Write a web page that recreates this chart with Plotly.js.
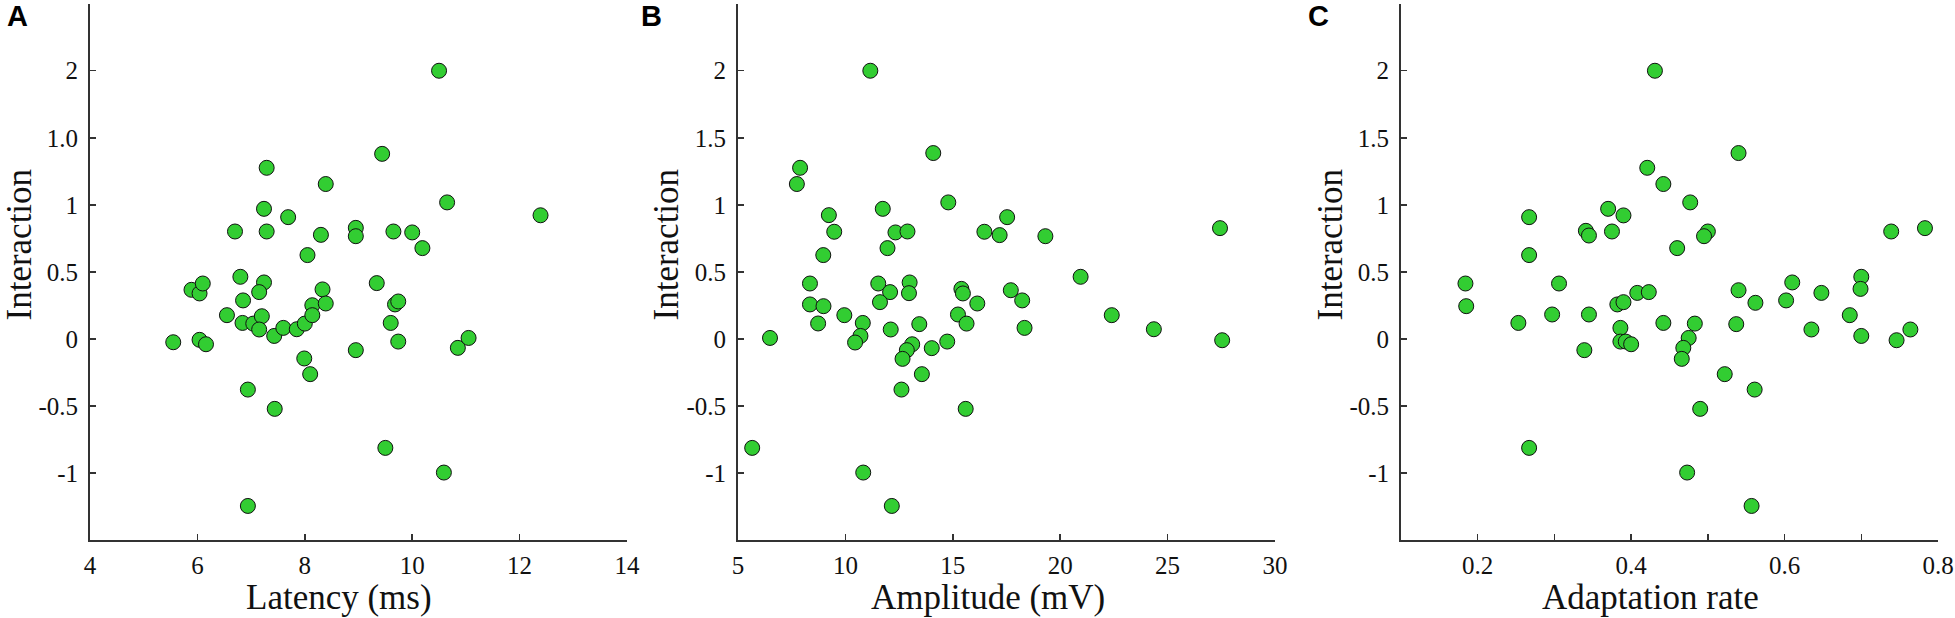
<!DOCTYPE html>
<html>
<head>
<meta charset="utf-8">
<script src="https://cdn.plot.ly/plotly-3.0.1.min.js"></script>
<style>
  html, body { margin: 0; padding: 0; background: #fff; }
  #chart { width: 1955px; height: 618px; }
</style>
</head>
<body>
<div id="chart"></div>
<script>
// ---------------- DATA ----------------
// Panel A: Latency (ms) vs Interaction
const latencyX = [10.50, 9.44, 7.29, 8.39, 10.65, 7.24, 7.69, 6.70, 7.29, 8.30, 8.95, 8.95, 9.65, 10.00, 10.19,
  8.05, 6.80, 5.89, 6.04, 6.10, 7.24, 7.15, 6.85, 8.33, 8.14, 8.39, 9.34, 9.68, 9.74,
  6.55, 6.84, 7.04, 7.20, 7.15, 7.43, 7.60, 7.85, 8.00, 8.14, 9.60,
  5.55, 6.04, 6.16, 8.95, 9.74, 10.85, 11.05, 7.99, 8.10, 6.94, 7.44, 9.50, 10.59, 6.94, 12.39];
const latencyY = [2.00, 1.38, 1.276, 1.155, 1.018, 0.970, 0.908, 0.801, 0.801, 0.776, 0.828, 0.766, 0.801, 0.794, 0.677,
  0.625, 0.463, 0.366, 0.339, 0.413, 0.421, 0.349, 0.287, 0.369, 0.251, 0.264, 0.416, 0.257, 0.279,
  0.177, 0.119, 0.114, 0.169, 0.070, 0.022, 0.082, 0.072, 0.114, 0.177, 0.119,
  -0.025, -0.007, -0.040, -0.084, -0.020, -0.067, 0.007, -0.146, -0.263, -0.378, -0.522, -0.813, -0.997, -1.246, 0.922];

// Panel B: Amplitude (mV) vs Interaction
const ampX = [11.16, 14.09, 7.89, 7.74, 14.79, 11.74, 17.53, 9.23, 9.48, 12.33, 12.89, 16.47, 17.18, 19.31, 27.44,
  11.96, 8.97, 20.95, 8.35, 11.53, 12.99, 12.08, 12.96, 15.40, 15.47, 17.70, 18.23, 8.35, 8.98, 11.61,
  16.14, 9.95, 15.24, 22.40,
  8.73, 10.81, 12.11, 13.44, 15.64, 18.34, 24.36, 27.54, 6.49, 10.70, 10.45, 13.11, 12.86, 12.66,
  14.02, 14.74, 13.56, 12.61, 15.60, 5.66, 10.83, 12.16];
const ampY = [2.00, 1.386, 1.276, 1.155, 1.018, 0.970, 0.908, 0.923, 0.799, 0.794, 0.801, 0.799, 0.774, 0.766, 0.826,
  0.677, 0.625, 0.463, 0.413, 0.413, 0.421, 0.349, 0.341, 0.373, 0.339, 0.363, 0.287, 0.257, 0.244, 0.274,
  0.264, 0.177, 0.182, 0.177,
  0.115, 0.119, 0.070, 0.110, 0.114, 0.082, 0.072, -0.010, 0.007, 0.022, -0.027, -0.040, -0.084, -0.149,
  -0.069, -0.020, -0.263, -0.378, -0.522, -0.813, -0.997, -1.246];

// Panel C: Adaptation rate vs Interaction
const adaptX = [0.431, 0.540, 0.421, 0.442, 0.477, 0.370, 0.390, 0.267, 0.341, 0.345, 0.375, 0.500, 0.495, 0.739, 0.783,
  0.460, 0.267, 0.700, 0.184, 0.306, 0.610, 0.699, 0.648, 0.408, 0.423, 0.540, 0.562, 0.602, 0.382, 0.390,
  0.185, 0.297, 0.345, 0.685,
  0.253, 0.442, 0.483, 0.537, 0.386, 0.635, 0.764, 0.700, 0.475, 0.386, 0.393, 0.400, 0.746, 0.468,
  0.339, 0.466, 0.522, 0.561, 0.490, 0.267, 0.473, 0.557];
const adaptY = [2.00, 1.386, 1.276, 1.155, 1.018, 0.970, 0.921, 0.908, 0.806, 0.771, 0.801, 0.801, 0.766, 0.801, 0.826,
  0.677, 0.625, 0.463, 0.413, 0.413, 0.421, 0.373, 0.343, 0.343, 0.349, 0.363, 0.269, 0.287, 0.257, 0.274,
  0.244, 0.182, 0.182, 0.177,
  0.119, 0.119, 0.114, 0.110, 0.082, 0.070, 0.070, 0.022, 0.007, -0.020, -0.020, -0.040, -0.010, -0.067,
  -0.084, -0.149, -0.263, -0.378, -0.522, -0.813, -0.997, -1.246];

// Ticks
const yTickVals = [-1, -0.5, 0, 0.5, 1, 1.5, 2];
const yTickTextA = ['-1', '-0.5', '0', '0.5', '1', '1.0', '2'];
const yTickTextBC = ['-1', '-0.5', '0', '0.5', '1', '1.5', '2'];
const xTickValsA = [4, 6, 8, 10, 12, 14];
const xTickTextA = ['4', '6', '8', '10', '12', '14'];
const xTickValsB = [5, 10, 15, 20, 25, 30];
const xTickTextB = ['5', '10', '15', '20', '25', '30'];
const xTickValsC = [0.2, 0.3, 0.4, 0.5, 0.6, 0.7, 0.8];
const xTickTextC = ['0.2', '', '0.4', '', '0.6', '', '0.8'];

const panelLetters = ['A', 'B', 'C'];
const xTitles = ['Latency (ms)', 'Amplitude (mV)', 'Adaptation rate'];
const yTitle = 'Interaction';

// ---------------- LAYOUT ----------------
const W = 1955, H = 618;
const px = v => v / W;
const py = v => (H - v) / H;

const axisLeft = [90, 738, 1401];
const axisRight = [627, 1275, 1938];
const plotTop = 3.7, plotBottom = 540;

const markerStyle = { size: 15, color: 'rgb(50,205,50)', line: { color: '#111', width: 1 } };

const traces = [
  { x: latencyX, y: latencyY, xaxis: 'x', yaxis: 'y' },
  { x: ampX, y: ampY, xaxis: 'x2', yaxis: 'y2' },
  { x: adaptX, y: adaptY, xaxis: 'x3', yaxis: 'y3' }
].map(t => Object.assign(t, { type: 'scatter', mode: 'markers', marker: markerStyle, hoverinfo: 'skip', showlegend: false }));

function tickFont() {
  return { family: 'Liberation Serif', size: 25, color: '#111' };
}

function xAxis(i, range, vals, text) {
  return {
    domain: [px(axisLeft[i]), px(axisRight[i])],
    range: range, anchor: i === 0 ? 'y' : 'y' + (i + 1),
    tickmode: 'array', tickvals: vals, ticktext: text,
    ticks: 'inside', ticklen: 6, tickwidth: 1.5, tickcolor: '#333',
    showline: true, linecolor: '#333', linewidth: 2,
    showgrid: false, zeroline: false, tickfont: tickFont(), ticklabelstandoff: 2,
    fixedrange: true
  };
}
function yAxis(i, text) {
  return {
    domain: [py(plotBottom), py(plotTop)],
    range: [-1.5, 2.5], anchor: i === 0 ? 'x' : 'x' + (i + 1),
    tickmode: 'array', tickvals: yTickVals, ticktext: text,
    ticks: 'inside', ticklen: 6, tickwidth: 1.5, tickcolor: '#333',
    showline: true, linecolor: '#333', linewidth: 2,
    showgrid: false, zeroline: false, tickfont: tickFont(), ticklabelstandoff: 5,
    fixedrange: true
  };
}

const titleFont = { family: 'Liberation Serif', size: 35, color: '#111' };
const letterFont = { family: 'Liberation Sans', size: 29, color: '#000', weight: 'bold' };

const annotations = [];
const xTitleCenters = [339, 988, 1650];
const yTitleCenters = [19, 666, 1330];
const letterLeft = [5, 639, 1306];
for (let i = 0; i < 3; i++) {
  annotations.push({ xref: 'paper', yref: 'paper', x: px(xTitleCenters[i]), y: py(597), xanchor: 'center', yanchor: 'middle',
    text: xTitles[i], showarrow: false, font: titleFont });
  annotations.push({ xref: 'paper', yref: 'paper', x: px(yTitleCenters[i]), y: py(244.5), xanchor: 'center', yanchor: 'middle',
    text: yTitle, textangle: -90, showarrow: false, font: titleFont });
  annotations.push({ xref: 'paper', yref: 'paper', x: px(letterLeft[i]), y: py(16), xanchor: 'left', yanchor: 'middle',
    text: '<b>' + panelLetters[i] + '</b>', showarrow: false, font: letterFont });
}

const layout = {
  width: W, height: H,
  margin: { l: 0, r: 0, t: 0, b: 0 },
  paper_bgcolor: '#fff', plot_bgcolor: '#fff',
  showlegend: false,
  xaxis: xAxis(0, [4, 14], xTickValsA, xTickTextA),
  yaxis: yAxis(0, yTickTextA),
  xaxis2: xAxis(1, [5, 30], xTickValsB, xTickTextB),
  yaxis2: yAxis(1, yTickTextBC),
  xaxis3: xAxis(2, [0.1, 0.8], xTickValsC, xTickTextC),
  yaxis3: yAxis(2, yTickTextBC),
  annotations: annotations
};

Plotly.newPlot('chart', traces, layout, { staticPlot: true, displayModeBar: false });
</script>
</body>
</html>
